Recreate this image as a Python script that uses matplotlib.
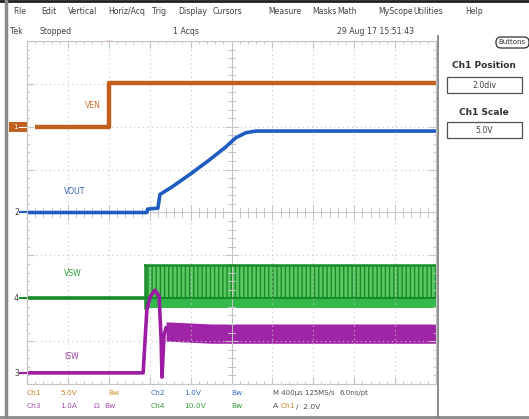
import numpy as np
import matplotlib
matplotlib.use('Agg')
import matplotlib.pyplot as plt
from matplotlib.patches import Rectangle, FancyBboxPatch

# Traces in screen divisions (x: 0..10 time div, y: 0..8 vertical div)
VEN_T = [0.2, 2.0, 2.0, 10.0]
VEN_V = [6.0, 6.0, 7.03, 7.03]

VOUT_T = [0.0, 2.93, 2.95, 3.20, 3.25, 3.55, 4.00, 4.45, 4.85, 5.10, 5.35, 5.60, 10.0]
VOUT_V = [4.0, 4.0, 4.08, 4.10, 4.42, 4.60, 4.90, 5.22, 5.52, 5.74, 5.86, 5.90, 5.90]

VSW_BASE_T = [0.0, 2.88]
VSW_BASE_V = [2.0, 2.0]
VSW_BAND_T = [2.88, 10.0]
VSW_HIGH = [2.77, 2.77]
VSW_LOW = [1.77, 1.77]

ISW_T = [0.0, 2.84, 2.93, 3.01, 3.13, 3.23, 3.28, 3.30, 3.35, 3.40]
ISW_V = [0.26, 0.26, 1.72, 2.03, 2.19, 2.05, 1.03, 0.16, 1.14, 1.31]
ISW_BAND_T = [3.40, 4.5, 10.0]
ISW_HIGH = [1.45, 1.40, 1.40]
ISW_LOW = [1.0, 0.95, 0.95]

MENU = ['File', 'Edit', 'Vertical', 'Horiz/Acq', 'Trig', 'Display', 'Cursors',
        'Measure', 'Masks', 'Math', 'MyScope', 'Utilities', 'Help']
MENU_X = [13, 41, 68, 108, 152, 178, 213, 268, 312, 337, 378, 413, 465]

ORANGE = '#c0601c'
BLUE = '#1f5cc0'
GREEN = '#2aa83c'
DKGREEN = '#178a2a'
PURPLE = '#9c1ca4'
GRID = '#c4c4c4'

fig = plt.figure(figsize=(5.29, 4.19), dpi=100)
fig.patch.set_facecolor('white')

# chrome layer in pixel coordinates
bg = fig.add_axes([0, 0, 1, 1])
bg.set_xlim(0, 529)
bg.set_ylim(419, 0)
bg.axis('off')

bg.plot([0, 529], [1.5, 1.5], color='#202020', lw=2)
bg.plot([6, 6], [0, 417], color='#8a8a8a', lw=2.5)
bg.plot([0, 529], [417, 417], color='#8a8a8a', lw=2)
bg.plot([438, 438], [36, 417], color='#7a7a7a', lw=1.2)

txt = dict(fontsize=5.6, color='#404040', va='center', ha='left')
for name, x in zip(MENU, MENU_X):
    bg.text(x, 11, name, **txt)
bg.text(10, 31, 'Tek', **txt)
bg.text(40, 31, 'Stopped', **txt)
bg.text(173, 31, '1 Acqs', **txt)
bg.text(337, 31, '29 Aug 17 15:51:43', **txt)

bg.add_patch(FancyBboxPatch((496, 37), 33, 11, boxstyle='round,pad=0,rounding_size=5',
                            fc='white', ec='#303030', lw=0.9))
bg.text(512, 42.5, 'Buttons', fontsize=5, color='#303030', ha='center', va='center')

bg.text(484, 66, 'Ch1 Position', fontsize=6.5, fontweight='bold', color='#303030',
        ha='center', va='center')
bg.add_patch(Rectangle((447, 77), 75, 16, fc='white', ec='#505050', lw=0.9))
bg.text(484.5, 85, '2.0div', fontsize=5.6, color='#404040', ha='center', va='center')
bg.text(484, 112, 'Ch1 Scale', fontsize=6.5, fontweight='bold', color='#303030',
        ha='center', va='center')
bg.add_patch(Rectangle((447, 122), 75, 16, fc='white', ec='#505050', lw=0.9))
bg.text(484.5, 130, '5.0V', fontsize=5.6, color='#404040', ha='center', va='center')

# status lines
st = dict(fontsize=5.4, va='center', ha='left')
bg.text(27, 393, 'Ch1', color='#c8842c', **st)
bg.text(60, 393, '5.0V', color='#c8842c', **st)
bg.text(108, 393, 'Bw', color='#c8902c', **st)
bg.text(151, 393, 'Ch2', color='#3a6cc0', **st)
bg.text(184, 393, '1.0V', color='#3a6cc0', **st)
bg.text(231, 393, 'Bw', color='#3a6cc0', **st)
bg.text(273, 393, 'M 400\u00b5s 125MS/s', color='#505050', fontsize=5.0,
        va='center', ha='left')
bg.text(339, 393, '6.0ns/pt', color='#505050', fontsize=5.0, va='center', ha='left')
bg.text(27, 406, 'Ch3', color='#a050a8', **st)
bg.text(60, 406, '1.0A', color='#a050a8', **st)
bg.text(94, 406, '\u03a9', color='#a050a8', **st)
bg.text(104, 406, 'Bw', color='#a050a8', **st)
bg.text(151, 406, 'Ch4', color='#3a9a3a', **st)
bg.text(184, 406, '10.0V', color='#3a9a3a', **st)
bg.text(231, 406, 'Bw', color='#3a9a3a', **st)
bg.text(273, 406, 'A', color='#505050', **st)
bg.text(281, 406, 'Ch1', color='#c8842c', **st)
bg.text(296, 406, '\u2215  2.0V', color='#505050', **st)

# scope screen
ax = fig.add_axes([27 / 529, (419 - 384) / 419, 409 / 529, 343 / 419])
ax.set_xlim(0, 10)
ax.set_ylim(0, 8)
for s in ax.spines.values():
    s.set_color(GRID)
    s.set_linewidth(0.8)
ax.set_xticks(np.arange(0, 11, 1))
ax.set_yticks(np.arange(0, 9, 1))
ax.set_xticks(np.arange(0, 10.01, 0.2), minor=True)
ax.set_yticks(np.arange(0, 8.01, 0.2), minor=True)
ax.tick_params(which='both', direction='in', colors=GRID, labelleft=False,
               labelbottom=False, top=True, right=True)
ax.tick_params(which='major', length=5)
ax.tick_params(which='minor', length=2.5)
ax.grid(True, which='major', color=GRID, ls=(0, (1, 3)), lw=0.8)

# centre cross with ticks
ax.axhline(4, color=GRID, lw=0.7)
ax.axvline(5, color=GRID, lw=0.7)
for xt in np.arange(0, 10.01, 0.2):
    h = 0.1 if abs(xt - round(xt)) > 1e-6 else 0.18
    ax.plot([xt, xt], [4 - h, 4 + h], color=GRID, lw=0.7)
for yt in np.arange(0, 8.01, 0.2):
    w = 0.08 if abs(yt - round(yt)) > 1e-6 else 0.15
    ax.plot([5 - w, 5 + w], [yt, yt], color=GRID, lw=0.7)

# traces
ax.plot(VEN_T, VEN_V, color=ORANGE, lw=3.2, solid_capstyle='butt')
ax.plot(VOUT_T, VOUT_V, color=BLUE, lw=2.6)
ax.plot(VSW_BASE_T, VSW_BASE_V, color=DKGREEN, lw=2.6)
ax.fill_between(VSW_BAND_T, VSW_LOW, VSW_HIGH, color='#34b84a', lw=0)
ax.fill_between(VSW_BAND_T, [2.0, 2.0], VSW_HIGH, facecolor='#5cc862',
                edgecolor=DKGREEN, hatch='||||', lw=0)
ax.plot(VSW_BAND_T, VSW_HIGH, color=DKGREEN, lw=1.8)
ax.plot(VSW_BAND_T, [2.0, 2.0], color=DKGREEN, lw=1.5)
ax.plot([VSW_BAND_T[0]] * 2, [VSW_LOW[0], VSW_HIGH[0]], color=DKGREEN, lw=1.8)
ax.plot(ISW_T, ISW_V, color=PURPLE, lw=2.6)
ax.fill_between(ISW_BAND_T, ISW_LOW, ISW_HIGH, color='#a024a8', lw=0)

# trace labels
ax.text(1.6, 6.5, 'VEN', color='#c87030', fontsize=5.6, ha='center', va='center')
ax.text(0.9, 4.5, 'VOUT', color='#3060b0', fontsize=5.6, ha='left', va='center')
ax.text(0.9, 2.58, 'VSW', color='#30a040', fontsize=5.6, ha='left', va='center')
ax.text(0.9, 0.64, 'ISW', color='#a040a0', fontsize=5.6, ha='left', va='center')

# ground markers and trigger markers (pixel layer)
bg.add_patch(Rectangle((9, 122), 26, 10, fc=ORANGE, ec='none', zorder=5))
bg.text(13, 127, '1', fontsize=5, color='white', va='center', zorder=6)
bg.plot([19, 33], [127, 127], color='white', lw=0.8, zorder=6)
bg.text(14, 212, '2', fontsize=5.6, color='#404040', va='center')
bg.plot([20, 28], [212, 212], color=BLUE, lw=1.5)
bg.text(14, 298, '4', fontsize=5.6, color='#404040', va='center')
bg.plot([20, 28], [298, 298], color=DKGREEN, lw=1.5)
bg.text(14, 373, '3', fontsize=5.6, color='#404040', va='center')
bg.plot([20, 28], [373, 373], color=PURPLE, lw=1.5)
bg.plot([109], [44], marker='v', color='#e06020', ms=4.5)
bg.plot([431], [106], marker='<', color=ORANGE, ms=3.5)

fig.savefig('out.png', dpi=100)
